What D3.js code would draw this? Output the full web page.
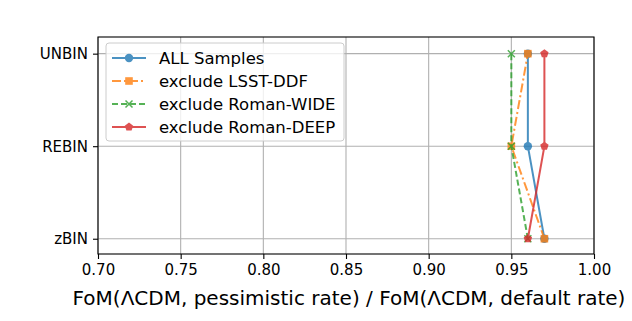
<!DOCTYPE html>
<html lang="en">
<head>
  <meta charset="UTF-8">
  <title>FoM ratio</title>
  <style>
    body { margin: 0; background: #fff; }
    text { font-family: "DejaVu Sans", sans-serif; }
  </style>
</head>
<body>
<svg id="chart" width="632" height="321"></svg>

<script src="https://cdn.jsdelivr.net/npm/d3@7"></script>
<script>
// categories from bottom to top
var binnings = ["zBIN", "REBIN", "UNBIN"];
var xTicks = [0.70, 0.75, 0.80, 0.85, 0.90, 0.95, 1.00];

// ratio values, one per binning (zBIN, REBIN, UNBIN)
var allSamples = [0.97, 0.96, 0.96];
var exclLsstDdf = [0.97, 0.95, 0.96];
var exclRomanWide = [0.96, 0.95, 0.95];
var exclRomanDeep = [0.96, 0.97, 0.97];

var seriesNames = ["ALL Samples", "exclude LSST-DDF", "exclude Roman-WIDE", "exclude Roman-DEEP"];

var series = [
  { name: seriesNames[0], vals: allSamples, color: "#1f77b4", dash: null, marker: "circle" },
  { name: seriesNames[1], vals: exclLsstDdf, color: "#ff7f0e", dash: "9,3,2,3", marker: "square" },
  { name: seriesNames[2], vals: exclRomanWide, color: "#2ca02c", dash: "6,3", marker: "x" },
  { name: seriesNames[3], vals: exclRomanDeep, color: "#d62728", dash: null, marker: "pentagon" }
];

var svg = d3.select("#chart"),
  pLeft = 98, pRight = 594, pTop = 37, pBottom = 254;

var x = d3.scaleLinear().domain([0.70, 1.00]).range([pLeft, pRight]);
var y = d3.scaleLinear().domain([-0.165, 2.18]).range([pBottom, pTop]);

// grid
var grid = svg.append("g");
xTicks.forEach(function (t) {
  grid.append("line").attr("x1", x(t)).attr("x2", x(t)).attr("y1", pTop).attr("y2", pBottom)
    .attr("stroke", "#b0b0b0").attr("stroke-width", 1.1);
});
binnings.forEach(function (b, i) {
  grid.append("line").attr("x1", pLeft).attr("x2", pRight).attr("y1", y(i)).attr("y2", y(i))
    .attr("stroke", "#b0b0b0").attr("stroke-width", 1.1);
});

// axes
var xAxis = d3.axisBottom(x).tickValues(xTicks).tickFormat(d3.format(".2f")).tickSizeOuter(0).tickSize(5).tickPadding(5);
var yAxis = d3.axisLeft(y).tickValues([0, 1, 2]).tickFormat(function (d) { return binnings[d]; }).tickSizeOuter(0).tickSize(5).tickPadding(5);

var gx = svg.append("g").attr("transform", "translate(0," + pBottom + ")").call(xAxis);
var gy = svg.append("g").attr("transform", "translate(" + pLeft + ",0)").call(yAxis);
[gx, gy].forEach(function (g) {
  g.select(".domain").remove();
  g.selectAll("text").attr("font-size", 15).attr("fill", "#000").attr("font-family", "DejaVu Sans");
  g.selectAll("line").attr("stroke", "#000").attr("stroke-width", 1.1);
});

function drawMarker(g, kind, cx, cy, color) {
  if (kind === "circle") {
    g.append("circle").attr("cx", cx).attr("cy", cy).attr("r", 4.2).attr("fill", color);
  } else if (kind === "square") {
    g.append("rect").attr("x", cx - 3.8).attr("y", cy - 3.8).attr("width", 7.6).attr("height", 7.6).attr("fill", color);
  } else if (kind === "x") {
    g.append("path").attr("d", "M" + (cx - 3.5) + "," + (cy - 3.5) + "L" + (cx + 3.5) + "," + (cy + 3.5) +
      "M" + (cx - 3.5) + "," + (cy + 3.5) + "L" + (cx + 3.5) + "," + (cy - 3.5))
      .attr("stroke", color).attr("stroke-width", 1.5);
  } else if (kind === "pentagon") {
    var pts = d3.range(5).map(function (k) {
      var a = -Math.PI / 2 + k * 2 * Math.PI / 5;
      return [cx + 4.4 * Math.cos(a), cy + 4.4 * Math.sin(a)];
    });
    g.append("polygon").attr("points", pts.map(function (p) { return p.join(","); }).join(" ")).attr("fill", color);
  }
}

var line = d3.line().x(function (d) { return x(d[0]); }).y(function (d) { return y(d[1]); });

var plot = svg.append("g");
series.forEach(function (s) {
  var g = plot.append("g").attr("opacity", 0.8);
  var pts = s.vals.map(function (v, i) { return [v, i]; });
  g.append("path").attr("d", line(pts)).attr("fill", "none").attr("stroke", s.color)
    .attr("stroke-width", 2).attr("stroke-dasharray", s.dash);
  pts.forEach(function (p) { drawMarker(g, s.marker, x(p[0]), y(p[1]), s.color); });
});

// frame
svg.append("rect").attr("x", pLeft).attr("y", pTop).attr("width", pRight - pLeft).attr("height", pBottom - pTop)
  .attr("fill", "none").attr("stroke", "#000").attr("stroke-width", 1.1);

// x label
svg.append("text").attr("x", (pLeft + pRight) / 2 + 3).attr("y", 305).attr("text-anchor", "middle")
  .attr("font-size", 20).text("FoM(ΛCDM, pessimistic rate) / FoM(ΛCDM, default rate)");

// legend
var leg = svg.append("g");
leg.append("rect").attr("x", 106).attr("y", 43).attr("width", 238).attr("height", 98).attr("rx", 3)
  .attr("fill", "#fff").attr("fill-opacity", 0.8).attr("stroke", "#cccccc");
series.forEach(function (s, i) {
  var ly = 58 + i * 23;
  var g = leg.append("g").attr("opacity", 0.8);
  g.append("line").attr("x1", 112).attr("x2", 146).attr("y1", ly).attr("y2", ly)
    .attr("stroke", s.color).attr("stroke-width", 2).attr("stroke-dasharray", s.dash);
  drawMarker(g, s.marker, 129, ly, s.color);
  leg.append("text").attr("x", 159).attr("y", ly + 6).attr("font-size", 16.5).text(s.name);
});
</script>
</body>
</html>
